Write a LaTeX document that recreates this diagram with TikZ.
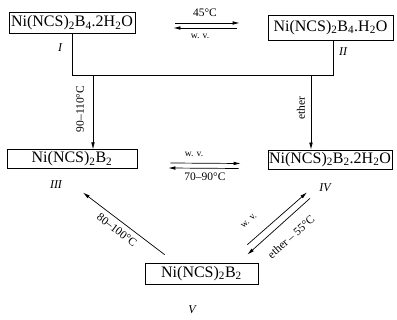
\documentclass[tikz,border=0pt]{standalone}
\usepackage{fontspec}
\setmainfont{Liberation Serif}
\usetikzlibrary{arrows.meta,positioning,calc}
\tikzset{box/.style={draw=black,fill=white,line width=.7pt,inner sep=1pt,font=\fontsize{16}{18}\selectfont},arr/.style={-{Latex[length=7pt,width=3.6pt]},draw=black,line width=.7pt},cond/.style={font=\fontsize{11.5}{13}\selectfont,inner sep=1pt},wv/.style={font=\fontsize{9.5}{11}\selectfont,inner sep=1pt},tag/.style={font=\itshape\fontsize{12}{14}\selectfont,inner sep=1pt}}

\begin{document}
\begin{tikzpicture}[x=1pt,y=-1pt]
\useasboundingbox (0,0) rectangle (397,320);

\node[box,minimum width=126pt,minimum height=20.5pt] (one) at (72,23) {Ni(NCS)\textsubscript{2}B\textsubscript{4}.2H\textsubscript{2}O};
\node[box,minimum width=125pt,minimum height=25pt] (two) at (330.5,27.5) {Ni(NCS)\textsubscript{2}B\textsubscript{4}.H\textsubscript{2}O};
\node[box,minimum width=130pt,minimum height=18.5pt] (three) at (72,159) {Ni(NCS)\textsubscript{2}B\textsubscript{2}};
\node[box,minimum width=124pt,minimum height=19pt] (four) at (330,159.5) {Ni(NCS)\textsubscript{2}B\textsubscript{2}.2H\textsubscript{2}O};
\node[box,minimum width=113pt,minimum height=21pt] (five) at (201.5,273.5) {Ni(NCS)\textsubscript{2}B\textsubscript{2}};
\node[tag] at (60,48) {I};
\node[tag] at (343,52) {II};
\node[tag] at (56,185) {III};
\node[tag] at (325,188) {IV};
\node[tag] at (192,310) {V};
% I <-> II
\draw[arr] ([xshift=40pt,yshift=0pt]one.east)--([xshift=-28pt,yshift=4.5pt]two.west);
\draw[arr] ([xshift=-31pt,yshift=-0.5pt]two.west)--([xshift=38pt,yshift=-5pt]one.east);
\node[cond] at (205,13) {45°C};
\node[wv] at (200,36) {w. v.};
% common outlet of I and II
\coordinate (jl) at (72,75); \coordinate (jr) at (333,75);
\draw[line width=.7pt] (one.south)--(jl)--(jr)--(jr|-two.south);
\coordinate (dl) at (93,75); \coordinate (dr) at (311,75);
\draw[arr] (dl)--(dl|-three.north);
\draw[arr] (dr)--(dr|-four.north);
\node[cond,rotate=90] at (80,109) {90--110°C};
\node[cond,rotate=90] at (301,108) {ether};
% III <-> IV
\draw[arr] ([xshift=33pt,yshift=-4pt]three.east)--([xshift=-27pt,yshift=-4pt]four.west);
\draw[arr] ([xshift=-29pt,yshift=-9pt]four.west)--([xshift=31pt,yshift=-9pt]three.east);
\node[wv] at (194,154) {w. v.};
\node[cond] at (205,177) {70--90°C};
% V -> III, V <-> IV
\draw[arr] ([xshift=20pt,yshift=8pt]five.north west)--([xshift=11pt,yshift=-24pt]three.south);
\node[cond,rotate=-37.5] at (117,230) {80--100°C};
\draw[arr] ([xshift=-11pt,yshift=18pt]five.north east)--([xshift=-23pt,yshift=-23pt]four.south);
\draw[arr] ([xshift=-20pt,yshift=-29pt]four.south)--([xshift=-11pt,yshift=8pt]five.north east);
\node[wv,rotate=41.5] at (249,221) {w. v.};
\node[cond,rotate=41.5] at (291,237) {ether -- 55°C};
\end{tikzpicture}
\end{document}
